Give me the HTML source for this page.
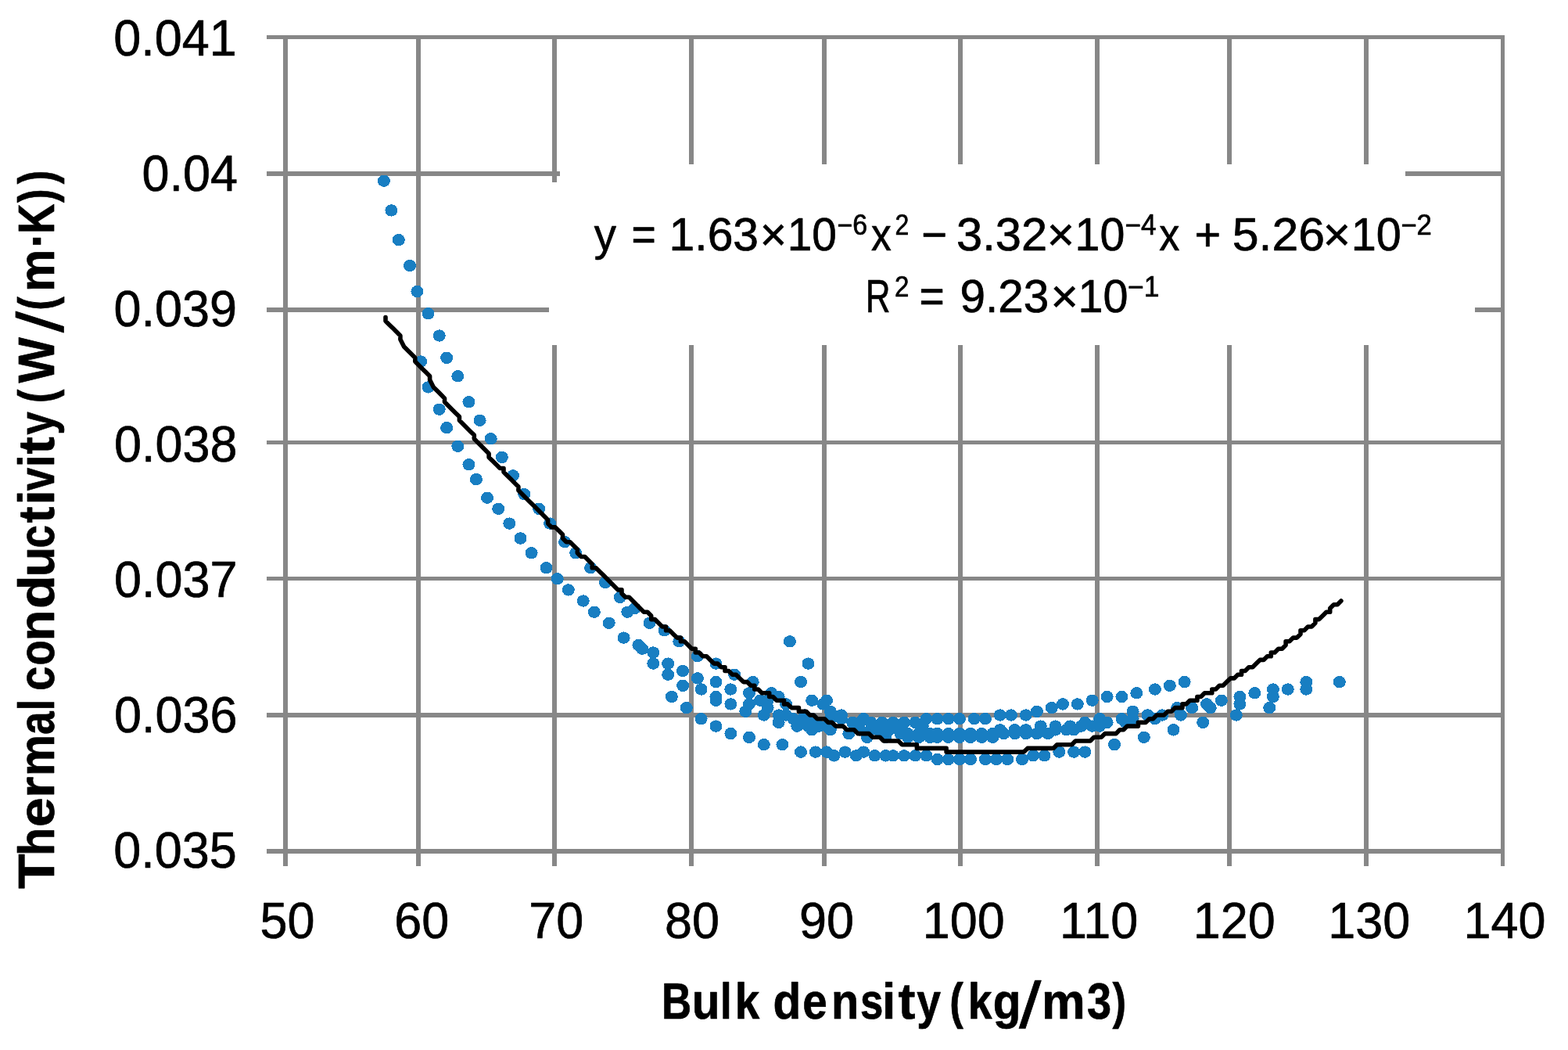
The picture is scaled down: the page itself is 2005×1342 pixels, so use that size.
<!DOCTYPE html>
<html lang="en"><head><meta charset="utf-8"><title>Thermal conductivity vs bulk density</title>
<style>
html,body{margin:0;padding:0;background:#fff;}
body{width:2005px;height:1342px;overflow:hidden;}
svg{display:block;}
text{font-family:"Liberation Sans",sans-serif;fill:#000;stroke:#000;stroke-width:0.7px;stroke-linejoin:round;}
.b{font-weight:bold;}
</style></head><body>
<svg width="2005" height="1342" viewBox="0 0 2005 1342">
<rect width="2005" height="1342" fill="#fff"/>
<g fill="#878787" shape-rendering="crispEdges">
<rect x="362" y="45" width="6" height="1062"/>
<rect x="532" y="45" width="6" height="1062"/>
<rect x="706" y="45" width="6" height="1062"/>
<rect x="881" y="45" width="6" height="1062"/>
<rect x="1051" y="45" width="6" height="1062"/>
<rect x="1225" y="45" width="6" height="1062"/>
<rect x="1400" y="45" width="6" height="1062"/>
<rect x="1569" y="45" width="6" height="1062"/>
<rect x="1744" y="45" width="6" height="1062"/>
<rect x="1919" y="45" width="5" height="1062"/>
<rect x="341" y="45" width="1583" height="5"/>
<rect x="341" y="219" width="1583" height="6"/>
<rect x="341" y="393" width="1583" height="6"/>
<rect x="341" y="563" width="1583" height="5"/>
<rect x="341" y="737" width="1583" height="5"/>
<rect x="341" y="911" width="1583" height="6"/>
<rect x="341" y="1085" width="1583" height="6"/>
</g>
<g fill="#fff" shape-rendering="crispEdges"><rect x="716" y="210" width="1081" height="24"/><rect x="702" y="233" width="1184" height="208"/></g>
<g fill="#187ec2" shape-rendering="crispEdges">
<ellipse cx="490.9" cy="231.2" rx="8" ry="7.7"/>
<ellipse cx="500.4" cy="268.9" rx="8" ry="7.7"/>
<ellipse cx="509.8" cy="306.6" rx="8" ry="7.7"/>
<ellipse cx="524.0" cy="339.5" rx="8" ry="7.7"/>
<ellipse cx="533.4" cy="372.5" rx="8" ry="7.7"/>
<ellipse cx="547.5" cy="400.7" rx="8" ry="7.7"/>
<ellipse cx="561.7" cy="429.0" rx="8" ry="7.7"/>
<ellipse cx="571.1" cy="457.3" rx="8" ry="7.7"/>
<ellipse cx="585.3" cy="480.8" rx="8" ry="7.7"/>
<ellipse cx="599.4" cy="513.8" rx="8" ry="7.7"/>
<ellipse cx="613.6" cy="537.3" rx="8" ry="7.7"/>
<ellipse cx="627.7" cy="560.8" rx="8" ry="7.7"/>
<ellipse cx="641.9" cy="584.4" rx="8" ry="7.7"/>
<ellipse cx="656.0" cy="607.9" rx="8" ry="7.7"/>
<ellipse cx="670.2" cy="631.5" rx="8" ry="7.7"/>
<ellipse cx="689.1" cy="650.3" rx="8" ry="7.7"/>
<ellipse cx="703.2" cy="669.1" rx="8" ry="7.7"/>
<ellipse cx="722.1" cy="692.7" rx="8" ry="7.7"/>
<ellipse cx="736.2" cy="706.8" rx="8" ry="7.7"/>
<ellipse cx="755.1" cy="725.7" rx="8" ry="7.7"/>
<ellipse cx="774.0" cy="744.5" rx="8" ry="7.7"/>
<ellipse cx="792.9" cy="763.3" rx="8" ry="7.7"/>
<ellipse cx="802.3" cy="782.2" rx="8" ry="7.7"/>
<ellipse cx="811.7" cy="777.5" rx="8" ry="7.7"/>
<ellipse cx="830.6" cy="796.3" rx="8" ry="7.7"/>
<ellipse cx="849.5" cy="805.7" rx="8" ry="7.7"/>
<ellipse cx="868.3" cy="819.8" rx="8" ry="7.7"/>
<ellipse cx="891.9" cy="838.7" rx="8" ry="7.7"/>
<ellipse cx="915.5" cy="848.1" rx="8" ry="7.7"/>
<ellipse cx="939.1" cy="862.2" rx="8" ry="7.7"/>
<ellipse cx="962.7" cy="871.6" rx="8" ry="7.7"/>
<ellipse cx="986.3" cy="885.8" rx="8" ry="7.7"/>
<ellipse cx="995.7" cy="890.5" rx="8" ry="7.7"/>
<ellipse cx="1005.1" cy="899.9" rx="8" ry="7.7"/>
<ellipse cx="538.1" cy="462.0" rx="8" ry="7.7"/>
<ellipse cx="547.5" cy="494.9" rx="8" ry="7.7"/>
<ellipse cx="561.7" cy="523.2" rx="8" ry="7.7"/>
<ellipse cx="571.1" cy="546.7" rx="8" ry="7.7"/>
<ellipse cx="585.3" cy="570.3" rx="8" ry="7.7"/>
<ellipse cx="599.4" cy="593.8" rx="8" ry="7.7"/>
<ellipse cx="608.9" cy="612.6" rx="8" ry="7.7"/>
<ellipse cx="623.0" cy="636.2" rx="8" ry="7.7"/>
<ellipse cx="637.2" cy="650.3" rx="8" ry="7.7"/>
<ellipse cx="651.3" cy="669.1" rx="8" ry="7.7"/>
<ellipse cx="665.5" cy="688.0" rx="8" ry="7.7"/>
<ellipse cx="679.6" cy="706.8" rx="8" ry="7.7"/>
<ellipse cx="698.5" cy="725.7" rx="8" ry="7.7"/>
<ellipse cx="712.7" cy="739.8" rx="8" ry="7.7"/>
<ellipse cx="726.8" cy="753.9" rx="8" ry="7.7"/>
<ellipse cx="745.7" cy="768.0" rx="8" ry="7.7"/>
<ellipse cx="759.8" cy="782.2" rx="8" ry="7.7"/>
<ellipse cx="778.7" cy="796.3" rx="8" ry="7.7"/>
<ellipse cx="797.6" cy="815.1" rx="8" ry="7.7"/>
<ellipse cx="816.4" cy="824.5" rx="8" ry="7.7"/>
<ellipse cx="821.2" cy="829.2" rx="8" ry="7.7"/>
<ellipse cx="835.3" cy="834.0" rx="8" ry="7.7"/>
<ellipse cx="835.3" cy="848.1" rx="8" ry="7.7"/>
<ellipse cx="854.2" cy="848.1" rx="8" ry="7.7"/>
<ellipse cx="854.2" cy="862.2" rx="8" ry="7.7"/>
<ellipse cx="873.1" cy="857.5" rx="8" ry="7.7"/>
<ellipse cx="873.1" cy="876.3" rx="8" ry="7.7"/>
<ellipse cx="891.9" cy="866.9" rx="8" ry="7.7"/>
<ellipse cx="896.6" cy="881.0" rx="8" ry="7.7"/>
<ellipse cx="915.5" cy="871.6" rx="8" ry="7.7"/>
<ellipse cx="915.5" cy="890.5" rx="8" ry="7.7"/>
<ellipse cx="915.5" cy="895.2" rx="8" ry="7.7"/>
<ellipse cx="934.4" cy="881.0" rx="8" ry="7.7"/>
<ellipse cx="934.4" cy="899.9" rx="8" ry="7.7"/>
<ellipse cx="858.9" cy="890.5" rx="8" ry="7.7"/>
<ellipse cx="877.8" cy="904.6" rx="8" ry="7.7"/>
<ellipse cx="958.0" cy="885.8" rx="8" ry="7.7"/>
<ellipse cx="958.0" cy="899.9" rx="8" ry="7.7"/>
<ellipse cx="953.3" cy="909.3" rx="8" ry="7.7"/>
<ellipse cx="972.1" cy="895.2" rx="8" ry="7.7"/>
<ellipse cx="981.6" cy="895.2" rx="8" ry="7.7"/>
<ellipse cx="981.6" cy="904.6" rx="8" ry="7.7"/>
<ellipse cx="976.8" cy="914.0" rx="8" ry="7.7"/>
<ellipse cx="995.7" cy="914.0" rx="8" ry="7.7"/>
<ellipse cx="1005.1" cy="914.0" rx="8" ry="7.7"/>
<ellipse cx="995.7" cy="923.4" rx="8" ry="7.7"/>
<ellipse cx="1014.6" cy="918.7" rx="8" ry="7.7"/>
<ellipse cx="1024.0" cy="923.4" rx="8" ry="7.7"/>
<ellipse cx="1019.3" cy="928.1" rx="8" ry="7.7"/>
<ellipse cx="1033.5" cy="928.1" rx="8" ry="7.7"/>
<ellipse cx="1047.6" cy="928.1" rx="8" ry="7.7"/>
<ellipse cx="1057.0" cy="928.1" rx="8" ry="7.7"/>
<ellipse cx="1038.2" cy="932.8" rx="8" ry="7.7"/>
<ellipse cx="1061.8" cy="932.8" rx="8" ry="7.7"/>
<ellipse cx="1024.0" cy="871.6" rx="8" ry="7.7"/>
<ellipse cx="1033.5" cy="848.1" rx="8" ry="7.7"/>
<ellipse cx="1038.2" cy="895.2" rx="8" ry="7.7"/>
<ellipse cx="1057.0" cy="895.2" rx="8" ry="7.7"/>
<ellipse cx="1061.8" cy="909.3" rx="8" ry="7.7"/>
<ellipse cx="1061.8" cy="918.7" rx="8" ry="7.7"/>
<ellipse cx="1075.9" cy="918.7" rx="8" ry="7.7"/>
<ellipse cx="1090.1" cy="923.4" rx="8" ry="7.7"/>
<ellipse cx="1099.5" cy="923.4" rx="8" ry="7.7"/>
<ellipse cx="1113.7" cy="923.4" rx="8" ry="7.7"/>
<ellipse cx="1127.8" cy="923.4" rx="8" ry="7.7"/>
<ellipse cx="1142.0" cy="923.4" rx="8" ry="7.7"/>
<ellipse cx="1156.1" cy="923.4" rx="8" ry="7.7"/>
<ellipse cx="1170.3" cy="923.4" rx="8" ry="7.7"/>
<ellipse cx="1184.4" cy="918.7" rx="8" ry="7.7"/>
<ellipse cx="1198.6" cy="918.7" rx="8" ry="7.7"/>
<ellipse cx="1212.7" cy="918.7" rx="8" ry="7.7"/>
<ellipse cx="1226.9" cy="918.7" rx="8" ry="7.7"/>
<ellipse cx="1245.7" cy="918.7" rx="8" ry="7.7"/>
<ellipse cx="1259.9" cy="918.7" rx="8" ry="7.7"/>
<ellipse cx="1278.8" cy="914.0" rx="8" ry="7.7"/>
<ellipse cx="1292.9" cy="914.0" rx="8" ry="7.7"/>
<ellipse cx="1311.8" cy="914.0" rx="8" ry="7.7"/>
<ellipse cx="1325.9" cy="909.3" rx="8" ry="7.7"/>
<ellipse cx="1344.8" cy="904.6" rx="8" ry="7.7"/>
<ellipse cx="1359.0" cy="899.9" rx="8" ry="7.7"/>
<ellipse cx="1377.8" cy="899.9" rx="8" ry="7.7"/>
<ellipse cx="1396.7" cy="895.2" rx="8" ry="7.7"/>
<ellipse cx="1415.6" cy="890.5" rx="8" ry="7.7"/>
<ellipse cx="1434.5" cy="890.5" rx="8" ry="7.7"/>
<ellipse cx="1453.3" cy="885.8" rx="8" ry="7.7"/>
<ellipse cx="1476.9" cy="881.0" rx="8" ry="7.7"/>
<ellipse cx="1495.8" cy="876.3" rx="8" ry="7.7"/>
<ellipse cx="1514.6" cy="871.6" rx="8" ry="7.7"/>
<ellipse cx="1104.2" cy="918.7" rx="8" ry="7.7"/>
<ellipse cx="1179.7" cy="928.1" rx="8" ry="7.7"/>
<ellipse cx="1151.4" cy="928.1" rx="8" ry="7.7"/>
<ellipse cx="1330.7" cy="928.1" rx="8" ry="7.7"/>
<ellipse cx="1349.5" cy="928.1" rx="8" ry="7.7"/>
<ellipse cx="1368.4" cy="928.1" rx="8" ry="7.7"/>
<ellipse cx="1382.6" cy="928.1" rx="8" ry="7.7"/>
<ellipse cx="1396.7" cy="928.1" rx="8" ry="7.7"/>
<ellipse cx="1099.5" cy="932.8" rx="8" ry="7.7"/>
<ellipse cx="1113.7" cy="932.8" rx="8" ry="7.7"/>
<ellipse cx="1123.1" cy="932.8" rx="8" ry="7.7"/>
<ellipse cx="1137.2" cy="932.8" rx="8" ry="7.7"/>
<ellipse cx="1278.8" cy="932.8" rx="8" ry="7.7"/>
<ellipse cx="1297.6" cy="932.8" rx="8" ry="7.7"/>
<ellipse cx="1311.8" cy="932.8" rx="8" ry="7.7"/>
<ellipse cx="1349.5" cy="932.8" rx="8" ry="7.7"/>
<ellipse cx="1363.7" cy="932.8" rx="8" ry="7.7"/>
<ellipse cx="1373.1" cy="932.8" rx="8" ry="7.7"/>
<ellipse cx="1085.3" cy="937.6" rx="8" ry="7.7"/>
<ellipse cx="1151.4" cy="937.6" rx="8" ry="7.7"/>
<ellipse cx="1160.8" cy="937.6" rx="8" ry="7.7"/>
<ellipse cx="1175.0" cy="937.6" rx="8" ry="7.7"/>
<ellipse cx="1189.1" cy="937.6" rx="8" ry="7.7"/>
<ellipse cx="1198.6" cy="937.6" rx="8" ry="7.7"/>
<ellipse cx="1212.7" cy="937.6" rx="8" ry="7.7"/>
<ellipse cx="1226.9" cy="937.6" rx="8" ry="7.7"/>
<ellipse cx="1241.0" cy="937.6" rx="8" ry="7.7"/>
<ellipse cx="1255.2" cy="937.6" rx="8" ry="7.7"/>
<ellipse cx="1269.3" cy="937.6" rx="8" ry="7.7"/>
<ellipse cx="1283.5" cy="937.6" rx="8" ry="7.7"/>
<ellipse cx="1297.6" cy="937.6" rx="8" ry="7.7"/>
<ellipse cx="1311.8" cy="937.6" rx="8" ry="7.7"/>
<ellipse cx="1325.9" cy="937.6" rx="8" ry="7.7"/>
<ellipse cx="1340.1" cy="937.6" rx="8" ry="7.7"/>
<ellipse cx="1108.9" cy="942.3" rx="8" ry="7.7"/>
<ellipse cx="1132.5" cy="942.3" rx="8" ry="7.7"/>
<ellipse cx="1160.8" cy="942.3" rx="8" ry="7.7"/>
<ellipse cx="1175.0" cy="942.3" rx="8" ry="7.7"/>
<ellipse cx="1189.1" cy="942.3" rx="8" ry="7.7"/>
<ellipse cx="1198.6" cy="942.3" rx="8" ry="7.7"/>
<ellipse cx="1212.7" cy="942.3" rx="8" ry="7.7"/>
<ellipse cx="1226.9" cy="942.3" rx="8" ry="7.7"/>
<ellipse cx="1241.0" cy="942.3" rx="8" ry="7.7"/>
<ellipse cx="1255.2" cy="942.3" rx="8" ry="7.7"/>
<ellipse cx="1269.3" cy="942.3" rx="8" ry="7.7"/>
<ellipse cx="1075.9" cy="914.0" rx="8" ry="7.7"/>
<ellipse cx="1387.3" cy="923.4" rx="8" ry="7.7"/>
<ellipse cx="1052.3" cy="899.9" rx="8" ry="7.7"/>
<ellipse cx="1028.7" cy="914.0" rx="8" ry="7.7"/>
<ellipse cx="1038.2" cy="918.7" rx="8" ry="7.7"/>
<ellipse cx="1406.1" cy="918.7" rx="8" ry="7.7"/>
<ellipse cx="1406.1" cy="928.1" rx="8" ry="7.7"/>
<ellipse cx="1415.6" cy="923.4" rx="8" ry="7.7"/>
<ellipse cx="1434.5" cy="918.7" rx="8" ry="7.7"/>
<ellipse cx="1439.2" cy="923.4" rx="8" ry="7.7"/>
<ellipse cx="1448.6" cy="909.3" rx="8" ry="7.7"/>
<ellipse cx="1448.6" cy="918.7" rx="8" ry="7.7"/>
<ellipse cx="1467.5" cy="914.0" rx="8" ry="7.7"/>
<ellipse cx="1476.9" cy="918.7" rx="8" ry="7.7"/>
<ellipse cx="1486.3" cy="914.0" rx="8" ry="7.7"/>
<ellipse cx="1505.2" cy="904.6" rx="8" ry="7.7"/>
<ellipse cx="1509.9" cy="914.0" rx="8" ry="7.7"/>
<ellipse cx="1524.1" cy="904.6" rx="8" ry="7.7"/>
<ellipse cx="1543.0" cy="899.9" rx="8" ry="7.7"/>
<ellipse cx="1547.7" cy="904.6" rx="8" ry="7.7"/>
<ellipse cx="1561.8" cy="895.2" rx="8" ry="7.7"/>
<ellipse cx="1585.4" cy="890.5" rx="8" ry="7.7"/>
<ellipse cx="1585.4" cy="899.9" rx="8" ry="7.7"/>
<ellipse cx="1580.7" cy="914.0" rx="8" ry="7.7"/>
<ellipse cx="1604.3" cy="885.8" rx="8" ry="7.7"/>
<ellipse cx="1627.9" cy="881.0" rx="8" ry="7.7"/>
<ellipse cx="1627.9" cy="890.5" rx="8" ry="7.7"/>
<ellipse cx="1623.2" cy="904.6" rx="8" ry="7.7"/>
<ellipse cx="1646.7" cy="881.0" rx="8" ry="7.7"/>
<ellipse cx="1670.3" cy="871.6" rx="8" ry="7.7"/>
<ellipse cx="1670.3" cy="881.0" rx="8" ry="7.7"/>
<ellipse cx="1712.8" cy="871.6" rx="8" ry="7.7"/>
<ellipse cx="1009.9" cy="819.8" rx="8" ry="7.7"/>
<ellipse cx="1387.3" cy="961.1" rx="8" ry="7.7"/>
<ellipse cx="1425.0" cy="951.7" rx="8" ry="7.7"/>
<ellipse cx="1462.8" cy="942.3" rx="8" ry="7.7"/>
<ellipse cx="1500.5" cy="932.8" rx="8" ry="7.7"/>
<ellipse cx="1538.2" cy="923.4" rx="8" ry="7.7"/>
<ellipse cx="896.6" cy="918.7" rx="8" ry="7.7"/>
<ellipse cx="915.5" cy="928.1" rx="8" ry="7.7"/>
<ellipse cx="934.4" cy="937.6" rx="8" ry="7.7"/>
<ellipse cx="958.0" cy="942.3" rx="8" ry="7.7"/>
<ellipse cx="976.8" cy="951.7" rx="8" ry="7.7"/>
<ellipse cx="1000.4" cy="951.7" rx="8" ry="7.7"/>
<ellipse cx="1024.0" cy="961.1" rx="8" ry="7.7"/>
<ellipse cx="1042.9" cy="961.1" rx="8" ry="7.7"/>
<ellipse cx="1057.0" cy="961.1" rx="8" ry="7.7"/>
<ellipse cx="1066.5" cy="965.8" rx="8" ry="7.7"/>
<ellipse cx="1080.6" cy="961.1" rx="8" ry="7.7"/>
<ellipse cx="1094.8" cy="965.8" rx="8" ry="7.7"/>
<ellipse cx="1104.2" cy="961.1" rx="8" ry="7.7"/>
<ellipse cx="1118.4" cy="965.8" rx="8" ry="7.7"/>
<ellipse cx="1132.5" cy="965.8" rx="8" ry="7.7"/>
<ellipse cx="1142.0" cy="965.8" rx="8" ry="7.7"/>
<ellipse cx="1156.1" cy="965.8" rx="8" ry="7.7"/>
<ellipse cx="1170.3" cy="965.8" rx="8" ry="7.7"/>
<ellipse cx="1184.4" cy="965.8" rx="8" ry="7.7"/>
<ellipse cx="1198.6" cy="970.5" rx="8" ry="7.7"/>
<ellipse cx="1212.7" cy="970.5" rx="8" ry="7.7"/>
<ellipse cx="1226.9" cy="970.5" rx="8" ry="7.7"/>
<ellipse cx="1241.0" cy="970.5" rx="8" ry="7.7"/>
<ellipse cx="1259.9" cy="970.5" rx="8" ry="7.7"/>
<ellipse cx="1274.1" cy="970.5" rx="8" ry="7.7"/>
<ellipse cx="1288.2" cy="970.5" rx="8" ry="7.7"/>
<ellipse cx="1307.1" cy="970.5" rx="8" ry="7.7"/>
<ellipse cx="1321.2" cy="965.8" rx="8" ry="7.7"/>
<ellipse cx="1335.4" cy="965.8" rx="8" ry="7.7"/>
<ellipse cx="1354.3" cy="961.1" rx="8" ry="7.7"/>
<ellipse cx="1373.1" cy="961.1" rx="8" ry="7.7"/>
</g>
<path d="M493.0 405.5 L493.0 410.2 L497.7 414.9 L502.5 419.6 L507.2 424.3 L511.9 429.0 L511.9 433.7 L516.6 443.1 L521.3 447.8 L526.1 452.5 L530.8 457.3 L530.8 462.0 L535.5 466.7 L540.2 471.4 L544.9 476.1 L549.6 480.8 L549.6 485.5 L554.4 494.9 L559.1 499.6 L563.8 504.3 L568.5 509.1 L568.5 513.8 L573.2 518.5 L577.9 523.2 L582.7 527.9 L587.4 532.6 L587.4 537.3 L592.1 542.0 L596.8 546.7 L601.5 551.4 L606.3 556.1 L606.3 560.8 L611.0 565.6 L615.7 570.3 L620.4 575.0 L625.1 579.7 L625.1 584.4 L629.8 589.1 L634.6 593.8 L639.3 598.5 L644.0 598.5 L644.0 603.2 L648.7 607.9 L653.4 612.6 L658.1 617.4 L662.9 622.1 L662.9 626.8 L667.6 631.5 L672.3 636.2 L677.0 640.9 L681.7 645.6 L686.5 650.3 L691.2 655.0 L695.9 659.7 L700.6 664.4 L700.6 669.1 L705.3 673.9 L710.0 673.9 L714.8 678.6 L719.5 683.3 L719.5 688.0 L724.2 692.7 L728.9 692.7 L733.6 697.4 L738.3 702.1 L738.3 706.8 L743.1 711.5 L747.8 711.5 L752.5 716.2 L757.2 720.9 L757.2 725.7 L761.9 725.7 L766.7 730.4 L771.4 735.1 L776.1 739.8 L780.8 744.5 L785.5 749.2 L790.2 753.9 L795.0 753.9 L795.0 758.6 L799.7 763.3 L804.4 763.3 L809.1 768.0 L813.8 772.7 L818.5 777.5 L823.3 782.2 L828.0 782.2 L832.7 786.9 L832.7 791.6 L837.4 791.6 L842.1 796.3 L846.9 801.0 L851.6 801.0 L851.6 805.7 L856.3 805.7 L861.0 810.4 L865.7 815.1 L870.4 815.1 L870.4 819.8 L875.2 819.8 L879.9 824.5 L884.6 829.2 L889.3 829.2 L889.3 834.0 L894.0 834.0 L898.7 838.7 L903.5 838.7 L908.2 843.4 L912.9 848.1 L917.6 848.1 L922.3 852.8 L927.0 852.8 L927.0 857.5 L931.8 857.5 L936.5 862.2 L941.2 862.2 L945.9 866.9 L950.6 871.6 L955.4 871.6 L960.1 876.3 L964.8 876.3 L964.8 881.0 L969.5 881.0 L974.2 885.8 L978.9 885.8 L983.7 885.8 L983.7 890.5 L988.4 890.5 L993.1 895.2 L997.8 895.2 L1002.5 895.2 L1002.5 899.9 L1007.2 899.9 L1012.0 904.6 L1016.7 904.6 L1021.4 904.6 L1021.4 909.3 L1026.1 909.3 L1030.8 909.3 L1035.6 914.0 L1040.3 914.0 L1045.0 918.7 L1049.7 918.7 L1054.4 918.7 L1059.1 923.4 L1063.9 923.4 L1068.6 928.1 L1073.3 928.1 L1078.0 928.1 L1082.7 932.8 L1087.4 932.8 L1092.2 932.8 L1096.9 937.6 L1101.6 937.6 L1106.3 937.6 L1111.0 937.6 L1115.8 942.3 L1120.5 942.3 L1125.2 942.3 L1129.9 947.0 L1134.6 947.0 L1139.3 947.0 L1144.1 947.0 L1148.8 947.0 L1153.5 951.7 L1158.2 951.7 L1162.9 951.7 L1167.6 951.7 L1172.4 951.7 L1172.4 956.4 L1177.1 956.4 L1181.8 956.4 L1186.5 956.4 L1191.2 956.4 L1196.0 956.4 L1200.7 956.4 L1205.4 956.4 L1210.1 956.4 L1210.1 961.1 L1214.8 961.1 L1219.5 961.1 L1224.3 961.1 L1229.0 961.1 L1233.7 961.1 L1238.4 961.1 L1243.1 961.1 L1247.8 961.1 L1252.6 961.1 L1257.3 961.1 L1262.0 961.1 L1266.7 961.1 L1271.4 961.1 L1276.2 961.1 L1280.9 961.1 L1285.6 961.1 L1290.3 961.1 L1295.0 961.1 L1299.7 961.1 L1304.5 961.1 L1309.2 961.1 L1313.9 956.4 L1318.6 956.4 L1323.3 956.4 L1328.0 956.4 L1332.8 956.4 L1337.5 956.4 L1342.2 956.4 L1346.9 956.4 L1351.6 951.7 L1356.4 951.7 L1361.1 951.7 L1365.8 951.7 L1370.5 951.7 L1375.2 947.0 L1379.9 947.0 L1384.7 947.0 L1389.4 947.0 L1394.1 947.0 L1398.8 942.3 L1403.5 942.3 L1408.2 942.3 L1413.0 937.6 L1417.7 937.6 L1422.4 937.6 L1427.1 937.6 L1431.8 932.8 L1436.6 932.8 L1441.3 928.1 L1446.0 928.1 L1450.7 928.1 L1455.4 928.1 L1455.4 923.4 L1460.1 923.4 L1464.9 923.4 L1469.6 918.7 L1474.3 918.7 L1479.0 914.0 L1483.7 914.0 L1488.4 914.0 L1493.2 909.3 L1497.9 909.3 L1502.6 904.6 L1507.3 904.6 L1512.0 904.6 L1512.0 899.9 L1516.7 899.9 L1521.5 895.2 L1526.2 895.2 L1530.9 895.2 L1530.9 890.5 L1535.6 890.5 L1540.3 885.8 L1545.1 885.8 L1549.8 885.8 L1549.8 881.0 L1554.5 881.0 L1559.2 876.3 L1563.9 876.3 L1568.6 871.6 L1573.4 866.9 L1578.1 866.9 L1582.8 862.2 L1587.5 862.2 L1587.5 857.5 L1592.2 857.5 L1596.9 852.8 L1601.7 852.8 L1606.4 848.1 L1611.1 843.4 L1615.8 843.4 L1620.5 838.7 L1625.3 838.7 L1625.3 834.0 L1630.0 834.0 L1634.7 829.2 L1639.4 829.2 L1644.1 824.5 L1644.1 819.8 L1648.8 819.8 L1653.6 815.1 L1658.3 815.1 L1663.0 810.4 L1663.0 805.7 L1667.7 805.7 L1672.4 801.0 L1677.1 801.0 L1681.9 796.3 L1681.9 791.6 L1686.6 791.6 L1691.3 786.9 L1696.0 782.2 L1700.7 782.2 L1700.7 777.5 L1705.5 772.7 L1710.2 772.7 L1714.9 768.0" fill="none" stroke="#000" stroke-width="5.6" stroke-linejoin="round" stroke-linecap="round"/>
<g font-size="65.0">
<text x="145.3" y="70.8" textLength="157.5" lengthAdjust="spacingAndGlyphs">0.041</text>
<text x="181.6" y="243.9" textLength="122.5" lengthAdjust="spacingAndGlyphs">0.04</text>
<text x="145.5" y="416.7" textLength="157.5" lengthAdjust="spacingAndGlyphs">0.039</text>
<text x="146.1" y="589.8" textLength="157.5" lengthAdjust="spacingAndGlyphs">0.038</text>
<text x="146.1" y="763.0" textLength="157.5" lengthAdjust="spacingAndGlyphs">0.037</text>
<text x="146.1" y="935.9" textLength="157.5" lengthAdjust="spacingAndGlyphs">0.036</text>
<text x="145.3" y="1109.1" textLength="157.5" lengthAdjust="spacingAndGlyphs">0.035</text>
<text x="332.6" y="1199.3" textLength="70.0" lengthAdjust="spacingAndGlyphs">50</text>
<text x="504.3" y="1199.3" textLength="70.0" lengthAdjust="spacingAndGlyphs">60</text>
<text x="676.3" y="1199.3" textLength="70.0" lengthAdjust="spacingAndGlyphs">70</text>
<text x="850.0" y="1199.3" textLength="70.0" lengthAdjust="spacingAndGlyphs">80</text>
<text x="1021.9" y="1199.3" textLength="70.0" lengthAdjust="spacingAndGlyphs">90</text>
<text x="1179.7" y="1199.3" textLength="105.0" lengthAdjust="spacingAndGlyphs">100</text>
<text x="1354.9" y="1199.3" textLength="100.3" lengthAdjust="spacingAndGlyphs">110</text>
<text x="1525.8" y="1199.3" textLength="105.0" lengthAdjust="spacingAndGlyphs">120</text>
<text x="1698.2" y="1199.3" textLength="105.0" lengthAdjust="spacingAndGlyphs">130</text>
<text x="1871.6" y="1199.3" textLength="105.0" lengthAdjust="spacingAndGlyphs">140</text>
</g>
<text class="b" font-size="64.5" transform="translate(69 1137) rotate(-90)" y="0"><tspan x="1.0" textLength="44.7" lengthAdjust="spacingAndGlyphs">T</tspan><tspan x="43.1" textLength="36.3" lengthAdjust="spacingAndGlyphs">h</tspan><tspan x="79.9" textLength="37.7" lengthAdjust="spacingAndGlyphs">e</tspan><tspan x="117.0" textLength="27.4" lengthAdjust="spacingAndGlyphs">r</tspan><tspan x="145.0" textLength="53.2" lengthAdjust="spacingAndGlyphs">m</tspan><tspan x="198.0" textLength="29.6" lengthAdjust="spacingAndGlyphs">a</tspan><tspan x="228.6" textLength="14.7" lengthAdjust="spacingAndGlyphs">l</tspan><tspan x="242.9"> </tspan><tspan x="254.3" textLength="31.0" lengthAdjust="spacingAndGlyphs">c</tspan><tspan x="286.4" textLength="32.3" lengthAdjust="spacingAndGlyphs">o</tspan><tspan x="317.6" textLength="39.9" lengthAdjust="spacingAndGlyphs">n</tspan><tspan x="358.9" textLength="42.9" lengthAdjust="spacingAndGlyphs">d</tspan><tspan x="399.8" textLength="38.5" lengthAdjust="spacingAndGlyphs">u</tspan><tspan x="436.4" textLength="29.4" lengthAdjust="spacingAndGlyphs">c</tspan><tspan x="468.4" textLength="21.0" lengthAdjust="spacingAndGlyphs">t</tspan><tspan x="491.3" textLength="19.9" lengthAdjust="spacingAndGlyphs">i</tspan><tspan x="509.7" textLength="29.4" lengthAdjust="spacingAndGlyphs">v</tspan><tspan x="539.9" textLength="15.6" lengthAdjust="spacingAndGlyphs">i</tspan><tspan x="556.5" textLength="22.3" lengthAdjust="spacingAndGlyphs">t</tspan><tspan x="581.2" textLength="29.4" lengthAdjust="spacingAndGlyphs">y</tspan><tspan x="612.8"> </tspan><tspan x="621.7" textLength="17.6" lengthAdjust="spacingAndGlyphs">(</tspan><tspan x="647.4" textLength="58.2" lengthAdjust="spacingAndGlyphs">W</tspan><tspan x="711.9" font-weight="normal" font-size="83.9" dy="12.3" textLength="27.0" lengthAdjust="spacingAndGlyphs">/</tspan><tspan x="740.2" dy="-12.3" textLength="17.6" lengthAdjust="spacingAndGlyphs">(</tspan><tspan x="764.0" textLength="54.4" lengthAdjust="spacingAndGlyphs">m</tspan><tspan x="820.6" textLength="19.8" lengthAdjust="spacingAndGlyphs">·</tspan><tspan x="838.3" textLength="38.2" lengthAdjust="spacingAndGlyphs">K</tspan><tspan x="877.9" textLength="17.6" lengthAdjust="spacingAndGlyphs">)</tspan><tspan x="901.8" textLength="17.6" lengthAdjust="spacingAndGlyphs">)</tspan></text>
<text class="b" font-size="64.5" y="1301.5"><tspan x="846.1" textLength="38.2" lengthAdjust="spacingAndGlyphs">B</tspan><tspan x="884.7" textLength="35.7" lengthAdjust="spacingAndGlyphs">u</tspan><tspan x="921.1" textLength="14.7" lengthAdjust="spacingAndGlyphs">l</tspan><tspan x="939.8" textLength="31.5" lengthAdjust="spacingAndGlyphs">k</tspan><tspan x="976.0"> </tspan><tspan x="988.6" textLength="35.8" lengthAdjust="spacingAndGlyphs">d</tspan><tspan x="1026.2" textLength="31.5" lengthAdjust="spacingAndGlyphs">e</tspan><tspan x="1063.0" textLength="35.2" lengthAdjust="spacingAndGlyphs">n</tspan><tspan x="1100.0" textLength="29.4" lengthAdjust="spacingAndGlyphs">s</tspan><tspan x="1128.1" textLength="17.2" lengthAdjust="spacingAndGlyphs">i</tspan><tspan x="1148.4" textLength="21.9" lengthAdjust="spacingAndGlyphs">t</tspan><tspan x="1172.2" textLength="30.8" lengthAdjust="spacingAndGlyphs">y</tspan><tspan x="1205.6"> </tspan><tspan x="1214.3" textLength="17.6" lengthAdjust="spacingAndGlyphs">(</tspan><tspan x="1237.8" textLength="30.8" lengthAdjust="spacingAndGlyphs">k</tspan><tspan x="1269.7" textLength="35.7" lengthAdjust="spacingAndGlyphs">g</tspan><tspan x="1303.1" font-weight="normal" font-size="83.9" dy="12.3" textLength="28.4" lengthAdjust="spacingAndGlyphs">/</tspan><tspan x="1331.9" dy="-12.3" textLength="55.7" lengthAdjust="spacingAndGlyphs">m</tspan><tspan x="1390.1" textLength="31.1" lengthAdjust="spacingAndGlyphs">3</tspan><tspan x="1422.6" textLength="17.6" lengthAdjust="spacingAndGlyphs">)</tspan></text>
<text font-size="58.7"><tspan x="759.8" y="320.1" textLength="28.2" lengthAdjust="spacingAndGlyphs">y</tspan><tspan> </tspan><tspan x="807.5" y="320.1" textLength="31.3" lengthAdjust="spacingAndGlyphs">=</tspan><tspan> </tspan><tspan x="855.6" y="320.1" textLength="114.5" lengthAdjust="spacingAndGlyphs">1.63</tspan><tspan x="971.7" y="320.1" textLength="34.3" lengthAdjust="spacingAndGlyphs">×</tspan><tspan x="1006.7" y="320.1" textLength="63.2" lengthAdjust="spacingAndGlyphs">10</tspan><tspan x="1070.4" y="299.5" font-size="36.0" textLength="38.6" lengthAdjust="spacingAndGlyphs">−6</tspan><tspan x="1114.0" y="320.1" textLength="25.7" lengthAdjust="spacingAndGlyphs">x</tspan><tspan x="1144.5" y="299.5" font-size="36.0" textLength="17.8" lengthAdjust="spacingAndGlyphs">2</tspan><tspan> </tspan><tspan x="1178.3" y="320.1" textLength="32.8" lengthAdjust="spacingAndGlyphs">−</tspan><tspan> </tspan><tspan x="1223.1" y="320.1" textLength="116.1" lengthAdjust="spacingAndGlyphs">3.32</tspan><tspan x="1338.8" y="320.1" textLength="35.3" lengthAdjust="spacingAndGlyphs">×</tspan><tspan x="1374.6" y="320.1" textLength="63.7" lengthAdjust="spacingAndGlyphs">10</tspan><tspan x="1438.4" y="299.5" font-size="36.0" textLength="40.0" lengthAdjust="spacingAndGlyphs">−4</tspan><tspan x="1482.2" y="320.1" textLength="26.1" lengthAdjust="spacingAndGlyphs">x</tspan><tspan> </tspan><tspan x="1527.5" y="320.1" textLength="33.6" lengthAdjust="spacingAndGlyphs">+</tspan><tspan> </tspan><tspan x="1575.8" y="320.1" textLength="118.2" lengthAdjust="spacingAndGlyphs">5.26</tspan><tspan x="1691.8" y="320.1" textLength="35.3" lengthAdjust="spacingAndGlyphs">×</tspan><tspan x="1727.7" y="320.1" textLength="64.0" lengthAdjust="spacingAndGlyphs">10</tspan><tspan x="1791.4" y="299.5" font-size="36.0" textLength="39.5" lengthAdjust="spacingAndGlyphs">−2</tspan></text>
<text font-size="58.7"><tspan x="1106.8" y="399.1" textLength="31.8" lengthAdjust="spacingAndGlyphs">R</tspan><tspan x="1144.0" y="378.5" font-size="36.0" textLength="18.4" lengthAdjust="spacingAndGlyphs">2</tspan><tspan> </tspan><tspan x="1175.4" y="399.1" textLength="32.2" lengthAdjust="spacingAndGlyphs">=</tspan><tspan> </tspan><tspan x="1227.6" y="399.1" textLength="113.8" lengthAdjust="spacingAndGlyphs">9.23</tspan><tspan x="1343.4" y="399.1" textLength="35.4" lengthAdjust="spacingAndGlyphs">×</tspan><tspan x="1378.4" y="399.1" textLength="64.0" lengthAdjust="spacingAndGlyphs">10</tspan><tspan x="1442.1" y="378.5" font-size="36.0" textLength="40.4" lengthAdjust="spacingAndGlyphs">−1</tspan></text>
</svg>
</body></html>
